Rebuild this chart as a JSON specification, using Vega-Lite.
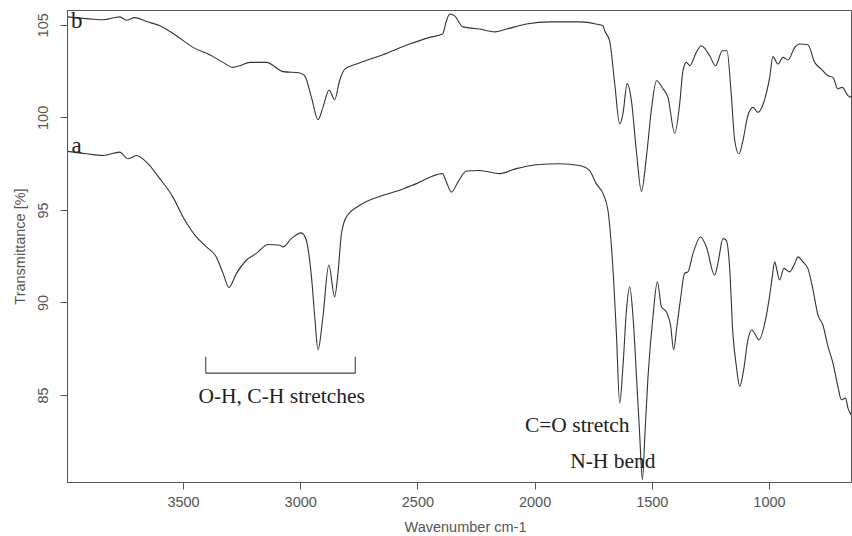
{
  "$schema": "https://vega.github.io/schema/vega-lite/v6.json",
  "width": 784,
  "height": 472,
  "autosize": {"type": "none"},
  "padding": {"left": 67, "top": 10, "right": 1, "bottom": 54},
  "background": "white",
  "config": {
    "view": {"stroke": "#555", "strokeWidth": 1},
    "axis": {
      "grid": false,
      "domainColor": "#555",
      "tickColor": "#555",
      "tickSize": 7,
      "labelFont": "Liberation Sans",
      "labelFontSize": 14.5,
      "labelColor": "#555",
      "titleFont": "Liberation Sans",
      "titleFontSize": 14.5,
      "titleFontWeight": "normal",
      "titleColor": "#555"
    }
  },
  "datasets": {
    "spectra": [
      {"series": "b", "wn": 3991, "T": 105.43},
      {"series": "b", "wn": 3898, "T": 105.32},
      {"series": "b", "wn": 3841, "T": 105.27},
      {"series": "b", "wn": 3770, "T": 105.43},
      {"series": "b", "wn": 3741, "T": 105.25},
      {"series": "b", "wn": 3706, "T": 105.39},
      {"series": "b", "wn": 3656, "T": 105.18},
      {"series": "b", "wn": 3599, "T": 104.95},
      {"series": "b", "wn": 3528, "T": 104.41},
      {"series": "b", "wn": 3457, "T": 103.78},
      {"series": "b", "wn": 3386, "T": 103.38},
      {"series": "b", "wn": 3329, "T": 102.97},
      {"series": "b", "wn": 3287, "T": 102.70},
      {"series": "b", "wn": 3258, "T": 102.79},
      {"series": "b", "wn": 3215, "T": 102.97},
      {"series": "b", "wn": 3144, "T": 102.97},
      {"series": "b", "wn": 3073, "T": 102.47},
      {"series": "b", "wn": 3002, "T": 102.40},
      {"series": "b", "wn": 2981, "T": 102.25},
      {"series": "b", "wn": 2952, "T": 101.08},
      {"series": "b", "wn": 2924, "T": 99.87},
      {"series": "b", "wn": 2903, "T": 100.54},
      {"series": "b", "wn": 2877, "T": 101.48},
      {"series": "b", "wn": 2853, "T": 100.96},
      {"series": "b", "wn": 2832, "T": 101.98},
      {"series": "b", "wn": 2810, "T": 102.61},
      {"series": "b", "wn": 2760, "T": 102.88},
      {"series": "b", "wn": 2647, "T": 103.38},
      {"series": "b", "wn": 2533, "T": 103.96},
      {"series": "b", "wn": 2447, "T": 104.32},
      {"series": "b", "wn": 2393, "T": 104.50},
      {"series": "b", "wn": 2376, "T": 105.22},
      {"series": "b", "wn": 2362, "T": 105.58},
      {"series": "b", "wn": 2341, "T": 105.48},
      {"series": "b", "wn": 2306, "T": 104.89},
      {"series": "b", "wn": 2234, "T": 104.77},
      {"series": "b", "wn": 2170, "T": 104.62},
      {"series": "b", "wn": 2120, "T": 104.77},
      {"series": "b", "wn": 2035, "T": 105.04},
      {"series": "b", "wn": 1936, "T": 105.16},
      {"series": "b", "wn": 1808, "T": 105.16},
      {"series": "b", "wn": 1766, "T": 105.12},
      {"series": "b", "wn": 1737, "T": 105.04},
      {"series": "b", "wn": 1708, "T": 104.95},
      {"series": "b", "wn": 1701, "T": 104.68},
      {"series": "b", "wn": 1680, "T": 104.14},
      {"series": "b", "wn": 1658, "T": 101.80},
      {"series": "b", "wn": 1637, "T": 99.65},
      {"series": "b", "wn": 1623, "T": 100.19},
      {"series": "b", "wn": 1605, "T": 101.82},
      {"series": "b", "wn": 1587, "T": 100.91},
      {"series": "b", "wn": 1566, "T": 98.21},
      {"series": "b", "wn": 1544, "T": 96.00},
      {"series": "b", "wn": 1523, "T": 97.85},
      {"series": "b", "wn": 1502, "T": 100.37},
      {"series": "b", "wn": 1480, "T": 101.98},
      {"series": "b", "wn": 1452, "T": 101.54},
      {"series": "b", "wn": 1431, "T": 101.08},
      {"series": "b", "wn": 1402, "T": 99.14},
      {"series": "b", "wn": 1381, "T": 100.73},
      {"series": "b", "wn": 1367, "T": 102.52},
      {"series": "b", "wn": 1352, "T": 102.97},
      {"series": "b", "wn": 1338, "T": 102.79},
      {"series": "b", "wn": 1310, "T": 103.51},
      {"series": "b", "wn": 1289, "T": 103.87},
      {"series": "b", "wn": 1253, "T": 103.33},
      {"series": "b", "wn": 1228, "T": 102.79},
      {"series": "b", "wn": 1199, "T": 103.60},
      {"series": "b", "wn": 1179, "T": 103.60},
      {"series": "b", "wn": 1161, "T": 101.27},
      {"series": "b", "wn": 1146, "T": 98.75},
      {"series": "b", "wn": 1128, "T": 98.03},
      {"series": "b", "wn": 1111, "T": 98.75},
      {"series": "b", "wn": 1090, "T": 100.10},
      {"series": "b", "wn": 1068, "T": 100.54},
      {"series": "b", "wn": 1047, "T": 100.27},
      {"series": "b", "wn": 1018, "T": 100.99},
      {"series": "b", "wn": 997, "T": 102.16},
      {"series": "b", "wn": 983, "T": 103.28},
      {"series": "b", "wn": 962, "T": 102.88},
      {"series": "b", "wn": 940, "T": 103.24},
      {"series": "b", "wn": 919, "T": 103.10},
      {"series": "b", "wn": 890, "T": 103.78},
      {"series": "b", "wn": 869, "T": 103.96},
      {"series": "b", "wn": 834, "T": 103.92},
      {"series": "b", "wn": 805, "T": 102.97},
      {"series": "b", "wn": 777, "T": 102.61},
      {"series": "b", "wn": 748, "T": 102.25},
      {"series": "b", "wn": 727, "T": 102.16},
      {"series": "b", "wn": 706, "T": 101.54},
      {"series": "b", "wn": 687, "T": 101.62},
      {"series": "b", "wn": 663, "T": 101.17},
      {"series": "b", "wn": 649, "T": 101.08},
      {"series": "a", "wn": 3991, "T": 98.16},
      {"series": "a", "wn": 3912, "T": 98.03},
      {"series": "a", "wn": 3841, "T": 97.94},
      {"series": "a", "wn": 3770, "T": 98.12},
      {"series": "a", "wn": 3735, "T": 97.76},
      {"series": "a", "wn": 3699, "T": 97.94},
      {"series": "a", "wn": 3649, "T": 97.49},
      {"series": "a", "wn": 3599, "T": 96.69},
      {"series": "a", "wn": 3543, "T": 95.69},
      {"series": "a", "wn": 3500, "T": 94.62},
      {"series": "a", "wn": 3443, "T": 93.54},
      {"series": "a", "wn": 3400, "T": 93.00},
      {"series": "a", "wn": 3358, "T": 92.46},
      {"series": "a", "wn": 3329, "T": 91.57},
      {"series": "a", "wn": 3304, "T": 90.81},
      {"series": "a", "wn": 3272, "T": 91.57},
      {"series": "a", "wn": 3230, "T": 92.28},
      {"series": "a", "wn": 3187, "T": 92.65},
      {"series": "a", "wn": 3137, "T": 93.13},
      {"series": "a", "wn": 3087, "T": 93.09},
      {"series": "a", "wn": 3073, "T": 93.00},
      {"series": "a", "wn": 3038, "T": 93.45},
      {"series": "a", "wn": 2995, "T": 93.76},
      {"series": "a", "wn": 2974, "T": 93.36},
      {"series": "a", "wn": 2952, "T": 91.38},
      {"series": "a", "wn": 2938, "T": 89.23},
      {"series": "a", "wn": 2924, "T": 87.44},
      {"series": "a", "wn": 2903, "T": 89.23},
      {"series": "a", "wn": 2878, "T": 92.02},
      {"series": "a", "wn": 2853, "T": 90.31},
      {"series": "a", "wn": 2839, "T": 91.57},
      {"series": "a", "wn": 2824, "T": 93.72},
      {"series": "a", "wn": 2803, "T": 94.62},
      {"series": "a", "wn": 2746, "T": 95.25},
      {"series": "a", "wn": 2647, "T": 95.79},
      {"series": "a", "wn": 2576, "T": 96.06},
      {"series": "a", "wn": 2504, "T": 96.42},
      {"series": "a", "wn": 2393, "T": 96.96},
      {"series": "a", "wn": 2376, "T": 96.50},
      {"series": "a", "wn": 2355, "T": 95.96},
      {"series": "a", "wn": 2327, "T": 96.50},
      {"series": "a", "wn": 2291, "T": 97.10},
      {"series": "a", "wn": 2234, "T": 97.13},
      {"series": "a", "wn": 2149, "T": 96.96},
      {"series": "a", "wn": 2078, "T": 97.23},
      {"series": "a", "wn": 1992, "T": 97.44},
      {"series": "a", "wn": 1893, "T": 97.49},
      {"series": "a", "wn": 1808, "T": 97.40},
      {"series": "a", "wn": 1766, "T": 97.13},
      {"series": "a", "wn": 1737, "T": 96.42},
      {"series": "a", "wn": 1708, "T": 95.88},
      {"series": "a", "wn": 1687, "T": 94.98},
      {"series": "a", "wn": 1668, "T": 92.28},
      {"series": "a", "wn": 1651, "T": 88.33},
      {"series": "a", "wn": 1637, "T": 84.56},
      {"series": "a", "wn": 1623, "T": 86.54},
      {"series": "a", "wn": 1608, "T": 89.59},
      {"series": "a", "wn": 1594, "T": 90.85},
      {"series": "a", "wn": 1580, "T": 89.23},
      {"series": "a", "wn": 1566, "T": 86.18},
      {"series": "a", "wn": 1552, "T": 82.95},
      {"series": "a", "wn": 1540, "T": 80.43},
      {"series": "a", "wn": 1529, "T": 82.95},
      {"series": "a", "wn": 1516, "T": 86.00},
      {"series": "a", "wn": 1495, "T": 89.23},
      {"series": "a", "wn": 1476, "T": 91.12},
      {"series": "a", "wn": 1459, "T": 89.77},
      {"series": "a", "wn": 1438, "T": 89.50},
      {"series": "a", "wn": 1419, "T": 88.69},
      {"series": "a", "wn": 1407, "T": 87.44},
      {"series": "a", "wn": 1393, "T": 88.69},
      {"series": "a", "wn": 1378, "T": 90.13},
      {"series": "a", "wn": 1360, "T": 91.57},
      {"series": "a", "wn": 1346, "T": 91.65},
      {"series": "a", "wn": 1324, "T": 92.65},
      {"series": "a", "wn": 1292, "T": 93.54},
      {"series": "a", "wn": 1267, "T": 93.00},
      {"series": "a", "wn": 1232, "T": 91.48},
      {"series": "a", "wn": 1218, "T": 92.11},
      {"series": "a", "wn": 1196, "T": 93.45},
      {"series": "a", "wn": 1182, "T": 93.36},
      {"series": "a", "wn": 1168, "T": 91.92},
      {"series": "a", "wn": 1154, "T": 88.33},
      {"series": "a", "wn": 1139, "T": 86.54},
      {"series": "a", "wn": 1125, "T": 85.46},
      {"series": "a", "wn": 1108, "T": 86.36},
      {"series": "a", "wn": 1090, "T": 87.97},
      {"series": "a", "wn": 1073, "T": 88.51},
      {"series": "a", "wn": 1061, "T": 88.33},
      {"series": "a", "wn": 1043, "T": 87.97},
      {"series": "a", "wn": 1018, "T": 88.87},
      {"series": "a", "wn": 1000, "T": 90.13},
      {"series": "a", "wn": 986, "T": 91.38},
      {"series": "a", "wn": 976, "T": 92.19},
      {"series": "a", "wn": 966, "T": 91.74},
      {"series": "a", "wn": 955, "T": 91.21},
      {"series": "a", "wn": 936, "T": 91.84},
      {"series": "a", "wn": 912, "T": 91.65},
      {"series": "a", "wn": 890, "T": 92.11},
      {"series": "a", "wn": 876, "T": 92.46},
      {"series": "a", "wn": 855, "T": 92.19},
      {"series": "a", "wn": 834, "T": 91.84},
      {"series": "a", "wn": 812, "T": 90.67},
      {"series": "a", "wn": 791, "T": 89.32},
      {"series": "a", "wn": 770, "T": 88.78},
      {"series": "a", "wn": 748, "T": 87.61},
      {"series": "a", "wn": 727, "T": 86.72},
      {"series": "a", "wn": 706, "T": 85.46},
      {"series": "a", "wn": 691, "T": 84.74},
      {"series": "a", "wn": 673, "T": 84.83},
      {"series": "a", "wn": 663, "T": 84.29},
      {"series": "a", "wn": 649, "T": 83.93}
    ],
    "bracket": [
      {"x": 3403, "x2": 2765, "y": 86.18, "y2": 86.18},
      {"x": 3403, "x2": 3403, "y": 87.07, "y2": 86.18},
      {"x": 2765, "x2": 2765, "y": 87.07, "y2": 86.18}
    ],
    "curveLabels": [
      {"label": "b", "wn": 3978, "T": 104.84},
      {"label": "a", "wn": 3976, "T": 98.1}
    ],
    "notes": [
      {"label": "O-H, C-H stretches", "wn": 3079, "T": 84.56},
      {"label": "C=O stretch", "wn": 1818, "T": 83.0},
      {"label": "N-H bend", "wn": 1666, "T": 81.06}
    ]
  },
  "encoding": {
    "x": {
      "type": "quantitative",
      "scale": {"domain": [650, 3995], "reverse": true, "nice": false, "zero": false},
      "axis": {
        "title": "Wavenumber cm-1",
        "values": [3500, 3000, 2500, 2000, 1500, 1000],
        "format": "d",
        "labelPadding": 6,
        "titleX": 398,
        "titleY": 45,
        "titleBaseline": "middle",
        "titleAlign": "center"
      }
    },
    "y": {
      "type": "quantitative",
      "scale": {"domain": [80.3, 105.8], "nice": false, "zero": false},
      "axis": {
        "title": "Transmittance [%]",
        "values": [85, 90, 95, 100, 105],
        "format": "d",
        "labelAngle": -90,
        "labelAlign": "center",
        "labelBaseline": "bottom",
        "labelPadding": 10,
        "titleAngle": -90,
        "titleX": -47,
        "titleY": 236,
        "titleBaseline": "middle",
        "titleAlign": "center"
      }
    }
  },
  "layer": [
    {
      "data": {"name": "spectra"},
      "mark": {"type": "line", "strokeWidth": 1.1, "interpolate": "monotone"},
      "encoding": {
        "x": {"field": "wn", "type": "quantitative"},
        "y": {"field": "T", "type": "quantitative"},
        "detail": {"field": "series"},
        "color": {"value": "#333333"}
      }
    },
    {
      "data": {"name": "bracket"},
      "mark": {"type": "rule", "color": "#444", "strokeWidth": 1.1},
      "encoding": {
        "x": {"field": "x", "type": "quantitative"},
        "x2": {"field": "x2"},
        "y": {"field": "y", "type": "quantitative"},
        "y2": {"field": "y2"}
      }
    },
    {
      "data": {"name": "curveLabels"},
      "mark": {"type": "text", "font": "Liberation Serif", "fontSize": 23, "align": "left", "baseline": "alphabetic", "color": "#222"},
      "encoding": {
        "x": {"field": "wn", "type": "quantitative"},
        "y": {"field": "T", "type": "quantitative"},
        "text": {"field": "label"}
      }
    },
    {
      "data": {"name": "notes"},
      "mark": {"type": "text", "font": "Liberation Serif", "fontSize": 21.5, "align": "center", "baseline": "alphabetic", "color": "#222"},
      "encoding": {
        "x": {"field": "wn", "type": "quantitative"},
        "y": {"field": "T", "type": "quantitative"},
        "text": {"field": "label"}
      }
    }
  ]
}
